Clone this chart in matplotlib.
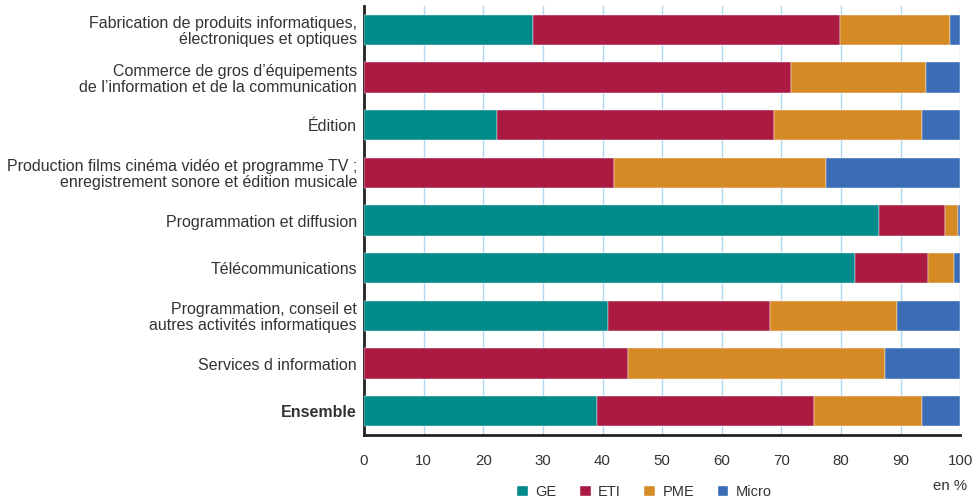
import matplotlib.pyplot as plt
from matplotlib import font_manager
import numpy as np

# ---------------------------------------------------------
# Data (share in %, by sector and firm size)
# ---------------------------------------------------------

sectors = [
    "Fabrication de produits informatiques,\nélectroniques et optiques",
    "Commerce de gros d’équipements\nde l’information et de la communication",
    "Édition",
    "Production films cinéma vidéo et programme TV ;\nenregistrement sonore et édition musicale",
    "Programmation et diffusion",
    "Télécommunications",
    "Programmation, conseil et\nautres activités informatiques",
    "Services d information",
    "Ensemble",
]

ge = [28.3, 0.0, 22.3, 0.0, 86.4, 82.4, 40.9, 0.0, 39.0]
eti = [51.5, 71.6, 46.4, 41.9, 11.0, 12.1, 27.2, 44.3, 36.5]
pme = [18.4, 22.6, 24.9, 35.5, 2.2, 4.5, 21.2, 43.0, 18.1]
micro = [1.8, 5.8, 6.4, 22.6, 0.4, 1.0, 10.7, 12.7, 6.4]

series = ["GE", "ETI", "PME", "Micro"]
colors = ["#008a8a", "#aa1a42", "#d68a26", "#3a6db5"]

# ---------------------------------------------------------
# Font: narrow if installed, otherwise Liberation Sans a bit smaller
# ---------------------------------------------------------

installed = {f.name for f in font_manager.fontManager.ttflist}
if "Liberation Sans Narrow" in installed:
    plt.rcParams["font.family"] = ["Liberation Sans Narrow", "DejaVu Sans"]
    label_fs, tick_fs, leg_fs = 12.5, 12.5, 12
else:
    plt.rcParams["font.family"] = ["Liberation Sans", "DejaVu Sans"]
    label_fs, tick_fs, leg_fs = 11.5, 10.8, 10.5

text_color = "#333333"

# ---------------------------------------------------------
# Plot
# ---------------------------------------------------------

fig = plt.figure(figsize=(9.72, 5.0), dpi=100)
ax = fig.add_axes([0.3745, 0.13, 0.6135, 0.858])

positions = np.arange(len(sectors))
left = np.zeros(len(sectors))

for name, vals, col in zip(series, [ge, eti, pme, micro], colors):
    vals = np.asarray(vals)
    ax.barh(positions, vals, height=0.63, left=left, color=col,
            edgecolor="white", linewidth=0.3, label=name, zorder=3)
    left += vals

ax.set_ylim(len(sectors) - 0.5, -0.5)
ax.set_xlim(0, 100)

ax.set_yticks(positions)
ax.set_yticklabels(sectors, fontsize=label_fs, color=text_color, linespacing=1.05)
ax.get_yticklabels()[-1].set_fontweight("bold")

ax.set_xticks(np.arange(0, 101, 10))
ax.tick_params(axis="x", labelsize=tick_fs, labelcolor=text_color, length=0, pad=14)
ax.tick_params(axis="y", length=0, pad=5)

ax.grid(axis="x", color="#b0d8f2", linewidth=1.0, zorder=0)
ax.set_axisbelow(True)

for side in ["top", "right"]:
    ax.spines[side].set_visible(False)
for side in ["left", "bottom"]:
    ax.spines[side].set_linewidth(2.0)
    ax.spines[side].set_color("#222222")

fig.text(0.995, 0.027, "en %", ha="right", va="center", fontsize=tick_fs, color=text_color)

leg = fig.legend(loc="center", bbox_to_anchor=(0.663, 0.016), ncol=4, frameon=False,
                 fontsize=leg_fs, handlelength=0.75, handleheight=0.75, columnspacing=1.6,
                 handletextpad=0.5)
for t in leg.get_texts():
    t.set_color(text_color)

fig.savefig("out.png", dpi=100)
